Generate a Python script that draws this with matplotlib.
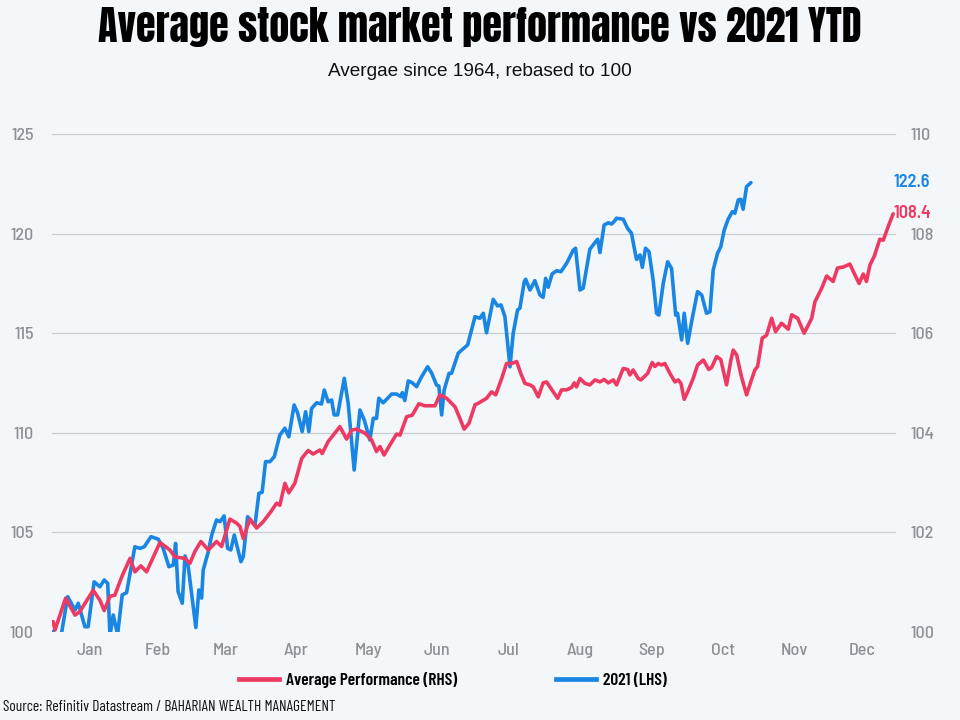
import matplotlib
matplotlib.use("Agg")
import matplotlib.pyplot as plt
from matplotlib.lines import Line2D
import matplotlib.transforms as mtransforms
from matplotlib import font_manager

# ---------------- data ----------------
months = ["Jan", "Feb", "Mar", "Apr", "May", "Jun", "Jul", "Aug", "Sep", "Oct", "Nov", "Dec"]
month_mid_days = [16, 45.5, 75, 105.5, 137, 167, 198, 229, 260, 291, 322, 351.5]

avg_days = [0.1, 0.9, 5.5, 9.6, 11.7, 17.5, 20.4, 22.3, 24.8, 26.9,
            29.9, 33.5, 35.6, 38.2, 40.7, 46.5, 50.8, 53.0, 57.4, 59.5,
            61.7, 64.3, 67.5, 71.1, 73.3, 76.9, 79.8, 81.3, 82.7, 85.6,
            88.5, 91.4, 94.7, 97.2, 98.6, 100.8, 102.5, 105.1, 108.1, 110.9,
            113.1, 116.0, 117.0, 119.6, 122.5, 124.7, 127.6, 129.8, 132.0, 135.6,
            138.5, 140.6, 142.1, 143.9, 146.4, 149.3, 150.8, 153.7, 156.1, 159.0,
            161.6, 166.0, 168.1, 171.1, 174.7, 176.8, 178.7, 180.8, 183.4, 184.8,
            188.4, 190.6, 192.4, 195.0, 197.1, 199.3, 201.5, 203.3, 205.1, 207.3,
            208.7, 210.9, 213.0, 214.5, 216.4, 219.3, 221.0, 223.2, 225.4, 226.5,
            227.5, 229.0, 231.2, 233.3, 235.5, 237.7, 239.5, 241.3, 243.5, 244.9,
            247.8, 249.7, 250.7, 252.1, 254.3, 255.5, 258.4, 260.4, 261.6, 263.0,
            264.5, 265.9, 268.1, 270.3, 271.7, 272.9, 274.3, 275.8, 278.2, 280.1,
            282.6, 285.0, 286.2, 288.4, 290.2, 292.7, 294.6, 295.6, 297.1, 299.2,
            301.4, 302.8, 305.0, 306.2, 308.2, 310.1, 312.3, 314.0, 316.6, 319.5,
            321.0, 323.6, 326.4, 329.7, 331.1, 334.0, 336.2, 339.0, 340.9, 343.4,
            346.3, 348.5, 350.3, 352.1, 353.5, 355.0, 356.9, 359.3, 360.8, 362.9,
            365.1]
avg_perf = [100.20, 100.03, 100.67, 100.33, 100.40, 100.83, 100.63, 100.42, 100.71, 100.73,
            101.10, 101.47, 101.20, 101.32, 101.20, 101.79, 101.64, 101.50, 101.47, 101.37,
            101.61, 101.81, 101.64, 101.81, 101.71, 102.26, 102.18, 102.11, 101.87, 102.26,
            102.08, 102.21, 102.41, 102.58, 102.54, 102.98, 102.79, 102.98, 103.48, 103.64,
            103.57, 103.65, 103.58, 103.82, 103.99, 104.12, 103.87, 104.05, 104.07, 103.99,
            103.85, 103.62, 103.72, 103.55, 103.75, 103.97, 103.95, 104.32, 104.35, 104.58,
            104.54, 104.54, 104.76, 104.69, 104.52, 104.29, 104.07, 104.19, 104.56, 104.59,
            104.69, 104.82, 104.76, 105.09, 105.39, 105.39, 105.43, 105.19, 104.99, 104.96,
            104.92, 104.72, 105.00, 105.02, 104.89, 104.69, 104.86, 104.86, 104.91, 105.00,
            104.92, 105.09, 104.99, 104.96, 105.06, 105.02, 105.07, 105.00, 105.06, 104.96,
            105.29, 105.27, 105.16, 105.26, 105.09, 105.06, 105.19, 105.41, 105.33, 105.39,
            105.36, 105.39, 105.19, 105.02, 105.06, 104.99, 104.67, 104.82, 105.09, 105.36,
            105.46, 105.27, 105.31, 105.53, 105.47, 104.96, 105.46, 105.66, 105.56, 105.12,
            104.76, 104.96, 105.26, 105.33, 105.90, 105.96, 106.30, 106.03, 106.20, 106.08,
            106.37, 106.30, 106.00, 106.30, 106.63, 106.90, 107.15, 107.04, 107.31, 107.33,
            107.39, 107.17, 107.00, 107.19, 107.04, 107.37, 107.55, 107.89, 107.87, 108.14,
            108.40]

ytd_days = [0.0, 2.0, 3.5, 6.4, 9.6, 11.0, 13.9, 15.3, 17.9, 20.4,
            22.3, 23.8, 24.8, 26.2, 28.1, 30.1, 32.0, 35.6, 37.8, 39.7,
            42.6, 45.8, 47.9, 50.4, 52.3, 53.3, 54.4, 56.2, 57.4, 58.8,
            62.1, 63.4, 64.6, 65.3, 67.5, 69.0, 71.1, 72.6, 74.4, 75.9,
            77.3, 78.8, 81.7, 82.7, 84.6, 86.3, 87.8, 89.5, 90.9, 92.4,
            94.3, 96.2, 98.6, 100.8, 102.5, 104.8, 106.3, 108.3, 109.8, 111.2,
            112.4, 114.6, 116.7, 117.9, 119.6, 121.1, 122.2, 123.7, 126.6, 128.3,
            130.9, 133.4, 135.3, 137.7, 139.2, 140.6, 141.6, 143.5, 147.2, 149.3,
            151.2, 151.8, 152.9, 154.4, 156.1, 158.0, 160.2, 162.8, 164.5, 166.7,
            167.7, 168.9, 170.0, 172.1, 173.2, 176.1, 177.6, 180.2, 181.9, 183.4,
            185.5, 187.0, 188.4, 191.3, 193.2, 194.7, 196.4, 198.6, 200.0, 201.9,
            202.9, 204.8, 205.4, 207.3, 209.4, 211.6, 213.0, 214.1, 215.2, 216.9,
            218.9, 220.7, 223.2, 226.1, 227.1, 229.0, 230.4, 233.3, 235.5, 236.7,
            237.7, 239.5, 241.3, 242.8, 244.2, 244.9, 247.8, 249.7, 251.4, 252.9,
            253.6, 255.1, 256.1, 257.5, 259.0, 260.8, 262.3, 263.3, 265.2, 267.1,
            268.8, 270.6, 271.4, 273.2, 274.3, 275.8, 277.8, 280.1, 281.9, 284.0,
            285.5, 286.9, 288.8, 290.2, 291.7, 293.4, 295.2, 296.3, 297.8, 298.9,
            299.9, 301.4, 303.3]
ytd_2021 = [100.00, 99.40, 99.75, 101.75, 101.08, 101.42, 100.24, 100.24, 102.50, 102.25,
            102.59, 102.42, 99.80, 100.83, 99.85, 101.84, 101.95, 104.26, 104.18, 104.26,
            104.77, 104.64, 104.18, 103.26, 103.34, 104.43, 102.00, 101.42, 103.80, 103.26,
            100.20, 102.09, 101.68, 103.09, 104.01, 104.85, 105.61, 105.52, 105.81, 104.18,
            104.10, 104.85, 103.51, 103.76, 105.77, 105.52, 105.35, 106.95, 107.00, 108.54,
            108.54, 108.79, 109.88, 110.22, 109.79, 111.39, 111.00, 110.05, 111.05, 110.05,
            111.22, 111.50, 111.44, 112.14, 111.55, 111.64, 110.89, 110.89, 112.73, 111.47,
            108.12, 111.14, 110.63, 109.63, 110.72, 110.72, 111.73, 111.50, 111.94, 111.94,
            111.81, 112.01, 111.61, 112.60, 112.51, 112.31, 112.81, 113.31, 113.01, 112.39,
            112.34, 110.89, 112.14, 112.98, 112.98, 113.99, 114.15, 114.41, 115.16, 115.83,
            115.75, 116.00, 115.02, 116.70, 116.37, 116.42, 115.83, 113.31, 114.99, 116.17,
            116.25, 117.59, 117.71, 117.17, 117.64, 116.92, 116.80, 117.76, 117.31, 117.98,
            118.14, 118.09, 118.51, 119.18, 119.27, 117.17, 117.26, 119.22, 119.55, 119.72,
            119.05, 120.44, 120.55, 120.49, 120.66, 120.78, 120.73, 120.27, 120.02, 119.10,
            118.71, 118.93, 118.31, 119.27, 119.10, 117.67, 116.00, 115.91, 117.51, 118.59,
            118.26, 115.91, 116.00, 114.66, 116.00, 114.49, 115.75, 117.09, 116.92, 116.00,
            116.08, 118.18, 119.02, 119.35, 120.19, 120.73, 121.11, 121.03, 121.70, 121.73,
            121.23, 122.37, 122.57]

left_ticks = [100, 105, 110, 115, 120, 125]
right_ticks = [100, 102, 104, 106, 108, 110]

title_text = "Average stock market performance vs 2021 YTD"
subtitle_text = "Avergae since 1964, rebased to 100"
source_text = "Source: Refinitiv Datastream / BAHARIAN WEALTH MANAGEMENT"
legend_labels = ["Average Performance (RHS)", "2021 (LHS)"]

# ---------------- fonts ----------------
_available = {f.name for f in font_manager.fontManager.ttflist}


def pick(prefs):
    for p in prefs:
        if p in _available:
            return [p, "DejaVu Sans"]
    return ["DejaVu Sans"]


TITLE_FONT = pick(["Anton", "League Gothic", "Oswald", "Fjalla One", "Bebas Neue",
                   "IBM Plex Sans Condensed", "Open Sans Condensed"])
TICK_FONT = pick(["Barlow Semi Condensed", "Barlow Condensed", "Saira Semi Condensed",
                  "Roboto Condensed", "IBM Plex Sans Condensed", "Open Sans Condensed"])
LABEL_FONT = pick(["Barlow Condensed", "Barlow Semi Condensed", "Roboto Condensed",
                   "Saira Condensed", "IBM Plex Sans Condensed", "Open Sans Condensed"])
SUB_FONT = pick(["Liberation Sans", "Arimo", "DejaVu Sans"])

plt.rcParams["font.family"] = TICK_FONT

# ---------------- style ----------------
BG = "#f4f7fa"
BLUE = "#1a86e3"
RED = "#ee3a63"
GRID = "#c9cdd2"
TICK = "#8c9097"

fig = plt.figure(figsize=(9.6, 7.2), dpi=100, facecolor=BG)
left_px, right_px, top_px, bot_px = 52, 895.7, 134.3, 631.5
ax = fig.add_axes([left_px / 960, 1 - bot_px / 720,
                   (right_px - left_px) / 960, (bot_px - top_px) / 720])
ax.set_facecolor(BG)
ax2 = ax.twinx()

ax.plot(ytd_days, ytd_2021, color=BLUE, lw=2.6, solid_joinstyle="round",
        solid_capstyle="round", zorder=3)
ax2.plot(avg_days, avg_perf, color=RED, lw=2.6, solid_joinstyle="round",
         solid_capstyle="round", zorder=3)

ax.set_xlim(-0.4, 366.2)
ax.set_ylim(100, 125)
ax2.set_ylim(100, 110)
ax.set_yticks(left_ticks)
ax2.set_yticks(right_ticks)
ax.set_xticks(month_mid_days)
ax.set_xticklabels(months)

for a in (ax, ax2):
    for s in a.spines.values():
        s.set_visible(False)
ax.tick_params(axis="both", length=0, colors=TICK, labelsize=13)
ax.tick_params(axis="y", pad=13)
ax.tick_params(axis="x", pad=8)
ax2.tick_params(axis="y", length=0, colors=TICK, labelsize=13, pad=11)
for lab in ax.get_xticklabels() + ax.get_yticklabels() + ax2.get_yticklabels():
    lab.set_fontweight("medium")

ax.grid(axis="y", color=GRID, lw=0.9)
ax.set_axisbelow(True)
ax.get_ygridlines()[0].set_visible(False)

# end-value labels
trans_b = mtransforms.blended_transform_factory(ax.transAxes, ax.transData)
ax.text(0.9975, ytd_2021[-1], f"{ytd_2021[-1]:.1f}", transform=trans_b,
        color=BLUE, fontsize=13, fontweight="semibold", va="center", ha="left",
        clip_on=False)
trans_r = mtransforms.blended_transform_factory(ax2.transAxes, ax2.transData)
ax2.text(0.9975, avg_perf[-1], f"{avg_perf[-1]:.1f}", transform=trans_r,
         color=RED, fontsize=13, fontweight="semibold", va="center", ha="left",
         clip_on=False)

# titles
title = fig.text(0.5, 1 - 27 / 720, title_text, ha="center", va="center",
                 fontsize=30, color="#000000", family=TITLE_FONT)
subtitle = fig.text(0.5, 1 - 72 / 720, subtitle_text, ha="center", va="center",
                    fontsize=12.5, color="#111111", family=SUB_FONT)
source = fig.text(3 / 960, 1 - 707 / 720, source_text, ha="left", va="center",
                  fontsize=10, color="#111111", family=LABEL_FONT)

# fit text widths to the reference layout
fig.canvas.draw()
renderer = fig.canvas.get_renderer()
for t, target in ((title, 765), (subtitle, 305), (source, 332)):
    w = t.get_window_extent(renderer).width
    t.set_fontsize(t.get_fontsize() * target / w)

probe = fig.text(0, 0, legend_labels[0], fontsize=12, family=LABEL_FONT, weight="semibold")
pw = probe.get_window_extent(renderer).width
leg_size = 12 * 172 / pw
probe.remove()

handles = [Line2D([0], [0], color=RED, lw=3.4),
           Line2D([0], [0], color=BLUE, lw=3.4)]
leg_px = leg_size * 100 / 72
fig.legend(handles, legend_labels, loc="center", bbox_to_anchor=(0.472, 1 - 680 / 720),
           ncol=2, frameon=False, handlelength=40 / leg_px,
           handletextpad=7 / leg_px, columnspacing=99 / leg_px,
           prop={"family": LABEL_FONT, "weight": "semibold", "size": leg_size})

fig.savefig("out.png", dpi=100, facecolor=BG)
